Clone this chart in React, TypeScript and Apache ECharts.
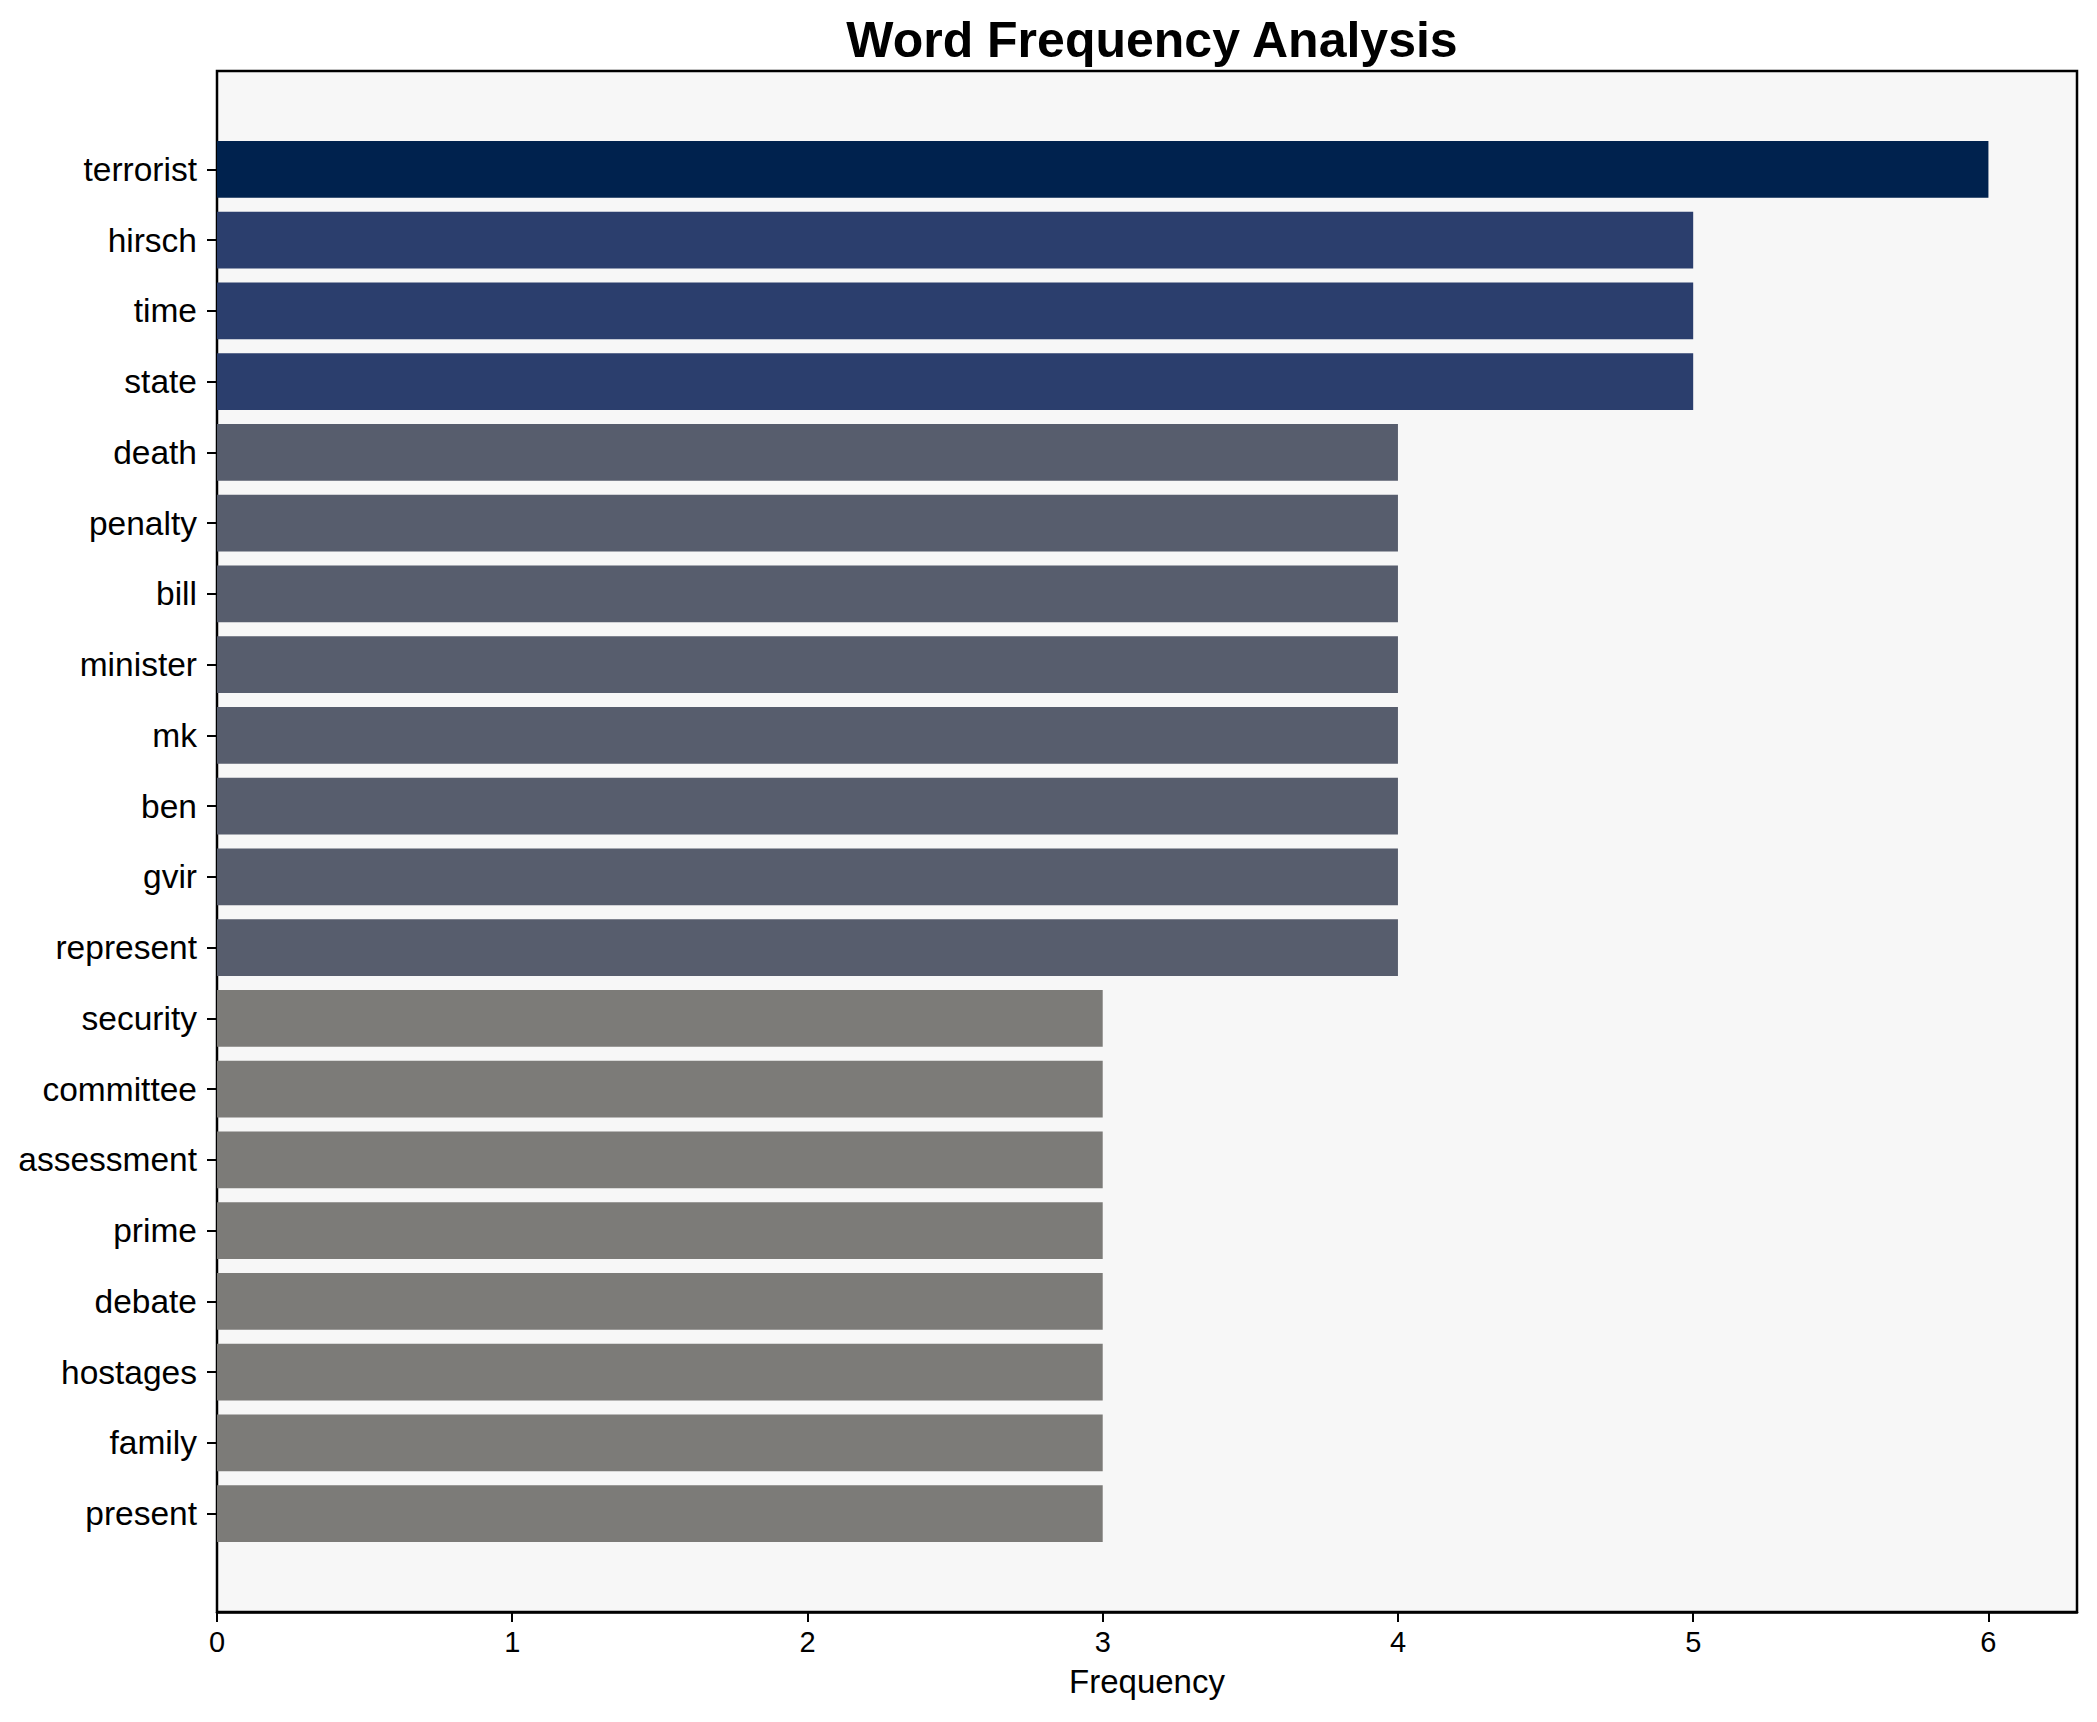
import React, { useEffect, useRef } from "react";
import * as echarts from "echarts";

const words = [
  "terrorist", "hirsch", "time", "state", "death", "penalty", "bill", "minister", "mk", "ben",
  "gvir", "represent", "security", "committee", "assessment", "prime", "debate", "hostages", "family", "present",
];
const frequencies = [6, 5, 5, 5, 4, 4, 4, 4, 4, 4, 4, 4, 3, 3, 3, 3, 3, 3, 3, 3];
const xTicks = [0, 1, 2, 3, 4, 5, 6];
const colorByValue: Record<number, string> = {
  6: "#00224e",
  5: "#2b3e6d",
  4: "#575d6d",
  3: "#7c7b78",
};

const FONT = "'Liberation Sans', Arial, Helvetica, sans-serif";

export default function App() {
  const ref = useRef<HTMLDivElement>(null);
  useEffect(() => {
    if (!ref.current) return;
    const chart = echarts.init(ref.current, null, { renderer: "svg" });
    const W = 2081;
    const H = 1706;
    const plotLeft = 209;
    const plotRight = 2069;
    const plotTop = 63;
    const plotBottom = 1604;
    const plotH = plotBottom - plotTop;
    const n = words.length;
    const span = n - 1 + 0.8;
    const unit = plotH / (span * 1.1);
    const margin = (0.05 * span - 0.1) * unit;
    const innerTop = plotTop + margin;
    const innerBottom = plotBottom - margin;

    chart.setOption({
      animation: false,
      title: {
        text: "Word Frequency Analysis",
        left: (plotLeft + plotRight) / 2,
        textAlign: "center",
        top: 2,
        textStyle: { fontFamily: FONT, fontWeight: "bold", fontSize: 50, color: "#000" },
      },
      grid: [
        {
          left: plotLeft,
          right: W - plotRight,
          top: plotTop,
          bottom: H - plotBottom,
          show: true,
          backgroundColor: "#f7f7f7",
          borderColor: "#000",
          borderWidth: 2.5,
          containLabel: false,
        },
        {
          left: plotLeft,
          right: W - plotRight,
          top: innerTop,
          bottom: H - innerBottom,
          containLabel: false,
        },
      ],
      xAxis: [
        {
          type: "value",
          gridIndex: 0,
          min: 0,
          max: 6.3,
          interval: 1,
          name: "Frequency",
          nameLocation: "middle",
          nameGap: 53,
          nameTextStyle: { fontFamily: FONT, fontSize: 33, color: "#000" },
          splitLine: { show: false },
          axisLine: { show: true, lineStyle: { color: "#000", width: 2.5 } },
          axisTick: {
            show: true,
            length: 10,
            lineStyle: { color: "#000", width: 2 },
            customValues: xTicks,
          },
          axisLabel: {
            margin: 15,
            fontFamily: FONT,
            fontSize: 29,
            color: "#000",
            customValues: xTicks,
          },
        },
        {
          type: "value",
          gridIndex: 1,
          min: 0,
          max: 6.3,
          show: false,
        },
      ],
      yAxis: [
        {
          type: "value",
          gridIndex: 0,
          show: false,
        },
        {
          type: "category",
          gridIndex: 1,
          data: words,
          inverse: true,
          axisLine: { show: false },
          axisTick: {
            show: true,
            alignWithLabel: true,
            length: 10,
            lineStyle: { color: "#000", width: 2 },
          },
          axisLabel: {
            margin: 20,
            fontFamily: FONT,
            fontSize: 33.5,
            color: "#000",
          },
          splitLine: { show: false },
        },
      ],
      series: [
        {
          type: "bar",
          xAxisIndex: 1,
          yAxisIndex: 1,
          barWidth: "80%",
          data: frequencies.map((v) => ({ value: v, itemStyle: { color: colorByValue[v] } })),
        },
      ],
    });
    return () => chart.dispose();
  }, []);
  return <div ref={ref} style={{ width: 2081, height: 1706 }} />;
}
